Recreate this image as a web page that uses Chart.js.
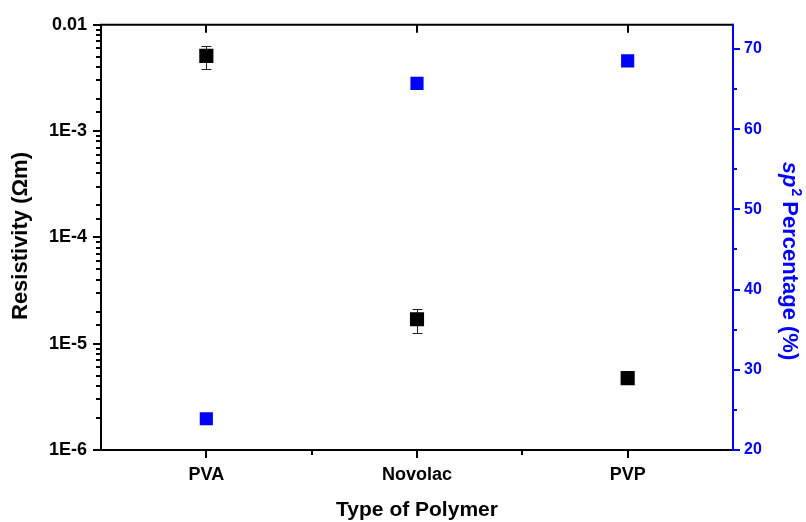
<!DOCTYPE html>
<html>
<head>
<meta charset="utf-8">
<script src="https://cdn.jsdelivr.net/npm/chart.js@4/dist/chart.umd.min.js"></script>
<style>
  html, body { margin: 0; padding: 0; background: #fff; }
  #wrap { width: 806px; height: 522px; position: relative; }
</style>
</head>
<body>
<div id="wrap"><canvas id="c"></canvas></div>
<script>
// ---- data ----
const categories = ['PVA', 'Novolac', 'PVP'];
const resistivity = [5.1e-3, 1.70e-5, 4.75e-6];
const resErrLow  = [3.8e-3, 1.25e-5, 4.5e-6];
const resErrHigh = [6.3e-3, 2.1e-5, 5.0e-6];
const sp2Percent = [23.9, 65.7, 68.5];
const leftTickValues = [1e-6, 1e-5, 1e-4, 1e-3, 1e-2];
const leftTickLabels = ['1E-6', '1E-5', '1E-4', '1E-3', '0.01'];
const rightTickValues = [20, 30, 40, 50, 60, 70];

const FONT = '"Liberation Sans", Arial, sans-serif';
const BLUE = '#0000ff';

function isDecade(v) {
  const l = Math.log10(v);
  return Math.abs(l - Math.round(l)) < 1e-6;
}

const decor = {
  id: 'decor',
  beforeDatasetsDraw(chart) {
    const { ctx } = chart;
    const x = chart.scales.x, y = chart.scales.y;
    ctx.save();
    ctx.strokeStyle = '#222';
    ctx.lineWidth = 1;
    resistivity.forEach((v, i) => {
      const px = Math.round(x.getPixelForValue(i)) + 0.5;
      const top = Math.round(y.getPixelForValue(resErrHigh[i])) + 0.5;
      const bot = Math.round(y.getPixelForValue(resErrLow[i])) + 0.5;
      ctx.beginPath();
      ctx.moveTo(px, top); ctx.lineTo(px, bot);
      ctx.moveTo(px - 5, top); ctx.lineTo(px + 5, top);
      ctx.moveTo(px - 5, bot); ctx.lineTo(px + 5, bot);
      ctx.stroke();
    });
    ctx.restore();
  },
  afterDraw(chart) {
    const { ctx, chartArea: ca } = chart;
    const x = chart.scales.x, y = chart.scales.y, y2 = chart.scales.y2;
    ctx.save();
    ctx.lineWidth = 2;
    ctx.lineCap = 'butt';
    ctx.strokeStyle = '#000';
    ctx.beginPath();
    ctx.moveTo(ca.left, ca.top - 1); ctx.lineTo(ca.left, ca.bottom + 1);
    ctx.moveTo(ca.left - 1, ca.top); ctx.lineTo(ca.right, ca.top);
    ctx.moveTo(ca.left - 1, ca.bottom); ctx.lineTo(ca.right, ca.bottom);
    y.ticks.forEach(t => {
      const py = Math.round(y.getPixelForValue(t.value));
      const len = isDecade(t.value) ? 8 : 5;
      ctx.moveTo(ca.left - len, py); ctx.lineTo(ca.left, py);
    });
    categories.forEach((c, i) => {
      const px = Math.round(x.getPixelForValue(i));
      ctx.moveTo(px, ca.top); ctx.lineTo(px, ca.top + 8);
      ctx.moveTo(px, ca.bottom); ctx.lineTo(px, ca.bottom + 8);
      if (i < categories.length - 1) {
        const mx = Math.round((x.getPixelForValue(i) + x.getPixelForValue(i + 1)) / 2);
        ctx.moveTo(mx, ca.bottom); ctx.lineTo(mx, ca.bottom + 5);
      }
    });
    ctx.stroke();
    ctx.strokeStyle = BLUE;
    ctx.beginPath();
    ctx.moveTo(ca.right, ca.top - 1); ctx.lineTo(ca.right, ca.bottom + 1);
    y2.ticks.forEach(t => {
      if (t.value % 5 !== 0) return;
      const py = Math.round(y2.getPixelForValue(t.value));
      const len = (t.value % 10 === 0) ? 7 : 4;
      ctx.moveTo(ca.right, py); ctx.lineTo(ca.right + len, py);
    });
    ctx.stroke();

    ctx.fillStyle = '#000';
    ctx.textAlign = 'center';
    ctx.textBaseline = 'middle';
    ctx.font = 'bold 21px ' + FONT;
    ctx.fillText('Type of Polymer', (ca.left + ca.right) / 2, 510);

    ctx.save();
    ctx.translate(21, 236);
    ctx.rotate(-Math.PI / 2);
    ctx.font = 'bold 22px ' + FONT;
    ctx.fillText('Resistivity (\u03A9m)', 0, 0);
    ctx.restore();

    ctx.save();
    ctx.translate(791, 261);
    ctx.rotate(Math.PI / 2);
    ctx.fillStyle = BLUE;
    ctx.textAlign = 'left';
    ctx.textBaseline = 'alphabetic';
    const f1 = 'italic bold 22px ' + FONT;
    const f2 = 'bold 14px ' + FONT;
    const f3 = 'bold 22px ' + FONT;
    ctx.font = f1; const w1 = ctx.measureText('sp').width;
    ctx.font = f2; const w2 = ctx.measureText('2').width;
    ctx.font = f3; const w3 = ctx.measureText(' Percentage (%)').width;
    let sx = -(w1 + w2 + w3) / 2;
    const base = 8;
    ctx.font = f1; ctx.fillText('sp', sx, base); sx += w1 + 1;
    ctx.font = f2; ctx.fillText('2', sx, base - 9); sx += w2 - 1;
    ctx.font = f3; ctx.fillText(' Percentage (%)', sx, base);
    ctx.restore();

    ctx.restore();
  }
};

new Chart(document.getElementById('c'), {
  type: 'line',
  data: {
    labels: categories,
    datasets: [
      {
        label: 'Resistivity',
        data: resistivity,
        yAxisID: 'y',
        showLine: false,
        pointStyle: 'rect',
        pointRadius: 10,
        pointHoverRadius: 10,
        backgroundColor: '#000',
        borderColor: '#000',
        borderWidth: 0
      },
      {
        label: 'sp2 Percentage',
        data: sp2Percent,
        yAxisID: 'y2',
        showLine: false,
        pointStyle: 'rect',
        pointRadius: 9.3,
        pointHoverRadius: 9.3,
        backgroundColor: BLUE,
        borderColor: BLUE,
        borderWidth: 0
      }
    ]
  },
  options: {
    responsive: true,
    maintainAspectRatio: false,
    animation: false,
    events: [],
    layout: { padding: { top: 24, right: 0, bottom: 0, left: 0 } },
    plugins: { legend: { display: false }, tooltip: { enabled: false } },
    scales: {
      x: {
        type: 'category',
        offset: true,
        position: 'bottom',
        grid: { display: false, drawTicks: false },
        border: { display: false },
        ticks: {
          color: '#000',
          font: { family: FONT, size: 18, weight: 'bold' },
          padding: 14,
          maxRotation: 0
        },
        afterFit(s) { s.height = 72; }
      },
      y: {
        type: 'logarithmic',
        position: 'left',
        min: 1e-6,
        max: 1e-2,
        grid: { display: false, drawTicks: false },
        border: { display: false },
        ticks: {
          autoSkip: false,
          color: '#000',
          font: { family: FONT, size: 18, weight: 'bold' },
          padding: 14,
          callback(v) {
            const idx = leftTickValues.findIndex(t => Math.abs(Math.log10(t) - Math.log10(v)) < 1e-6);
            return idx >= 0 ? leftTickLabels[idx] : '';
          }
        },
        afterFit(s) { s.width = 101; }
      },
      y2: {
        type: 'linear',
        position: 'right',
        min: 20,
        max: 73,
        grid: { display: false, drawTicks: false },
        border: { display: false },
        ticks: {
          stepSize: 5,
          autoSkip: false,
          color: BLUE,
          font: { family: FONT, size: 16, weight: 'bold' },
          padding: 11,
          callback(v) { return rightTickValues.includes(v) ? String(v) : ''; }
        },
        afterFit(s) { s.width = 73; }
      }
    }
  },
  plugins: [decor]
});
</script>
</body>
</html>
